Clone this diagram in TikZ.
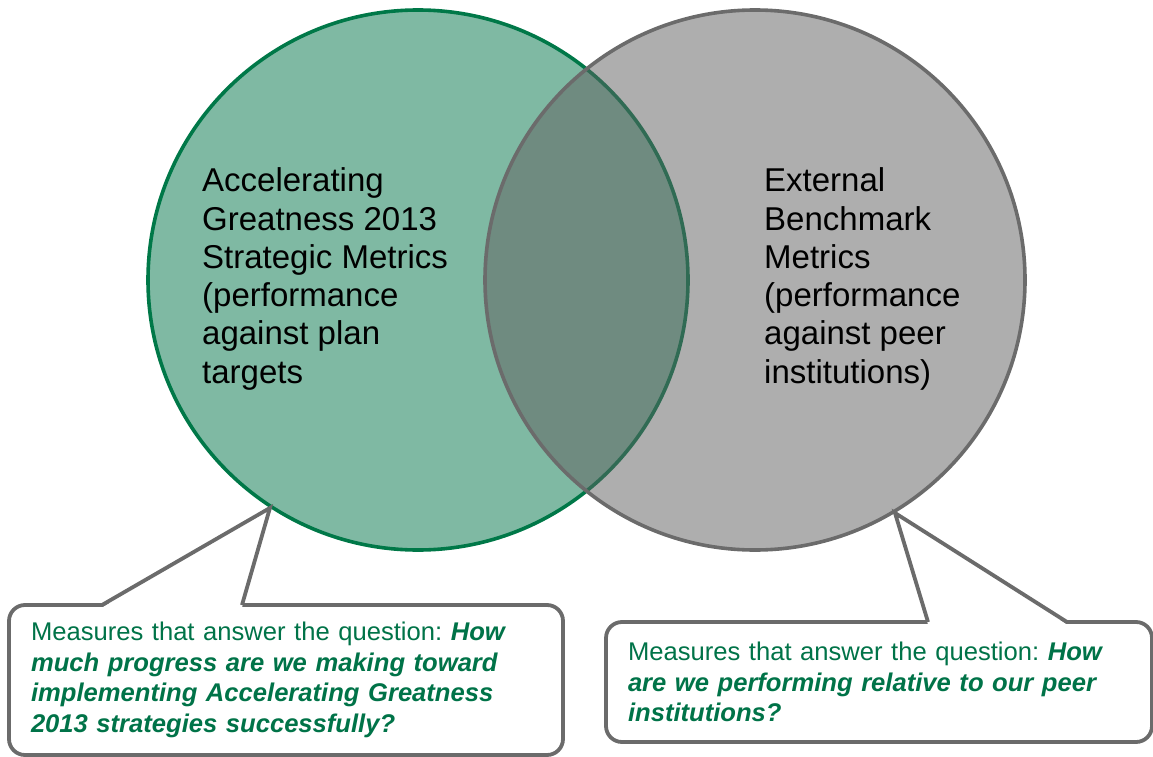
\documentclass[tikz,border=0pt]{standalone}
\usepackage{fontspec}
\setmainfont{Liberation Sans}
\usetikzlibrary{calc}
\definecolor{planfill}{RGB}{127,185,163}
\definecolor{planline}{RGB}{0,120,72}
\definecolor{peerfill}{RGB}{96,96,96}
\definecolor{peerline}{RGB}{107,107,107}
\definecolor{notetext}{RGB}{0,115,72}
\newcommand{\askq}[1]{\textbf{\textit{#1}}}
\frenchspacing

\begin{document}
\begin{tikzpicture}[x=1pt,y=-1pt,
	setcircle/.style={circle,minimum size=540pt,inner sep=0pt,line width=3.6pt},
	setlabel/.style={align=left,inner sep=0pt,anchor=west,
		font=\fontsize{33}{38.3}\selectfont},
	notebox/.style={draw=peerline,fill=white,line width=3.8pt,rounded corners=16pt,
		anchor=north west,outer sep=0pt,inner xsep=22pt,inner ysep=0pt,align=left,
		text=notetext,font=\fontsize{25.6}{30.5}\selectfont},
	notetail/.style={draw=peerline,line width=3.8pt,line join=miter}]
	
	\useasboundingbox (0,0) rectangle (1153,757);
	
	\node[setcircle,draw=planline,fill=planfill] (plan) at (418,280) {};
	\node[setcircle,draw=peerline,fill=peerfill,fill opacity=0.51] (peer) at (755,280) {};
	
	\node[setlabel] (plantext) at ($(plan.center)+(-216,-1)$)
	{Accelerating\\Greatness 2013\\Strategic Metrics\\(performance\\against plan\\targets};
	\node[setlabel] (peertext) at ($(peer.center)+(9,-1)$)
	{External\\Benchmark\\Metrics\\(performance\\against peer\\institutions)};
	
	\node[notebox,minimum width=554pt,minimum height=150pt,text width=510pt] (plannote) at (9,605)
	{Measures that answer the question: \askq{How}\\
		\askq{much progress are we making toward}\\
		\askq{implementing Accelerating Greatness}\\
		\askq{2013 strategies successfully?}};
	\node[notebox,minimum width=546pt,minimum height=120pt,text width=502pt] (peernote) at (606,622)
	{Measures that answer the question: \askq{How}\\
		\askq{are we performing relative to our peer}\\
		\askq{institutions?}};
	
	\coordinate (plantip) at (plan.237);
	\coordinate (peertip) at (peer.301);
	
	\fill[white] ($(plannote.north west)+(93,2.5)$) -- (plantip) -- ($(plannote.north west)+(233,2.5)$) -- cycle;
	\draw[notetail] ($(plannote.north west)+(93,0)$) -- (plantip) -- ($(plannote.north west)+(233,0)$);
	
	\fill[white] ($(peernote.north west)+(322,2.5)$) -- (peertip) -- ($(peernote.north west)+(461,2.5)$) -- cycle;
	\draw[notetail] ($(peernote.north west)+(322,0)$) -- (peertip) -- ($(peernote.north west)+(461,0)$);
\end{tikzpicture}
\end{document}
